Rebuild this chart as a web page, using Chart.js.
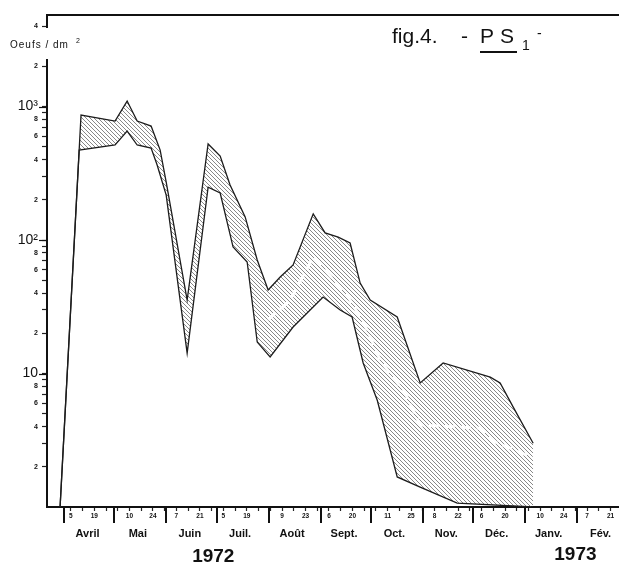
<!DOCTYPE html>
<html>
<head>
<meta charset="utf-8">
<script src="https://cdn.jsdelivr.net/npm/chart.js@4.4.1/dist/chart.umd.min.js"></script>
<style>
  html, body { margin: 0; padding: 0; background: #fff; }
  canvas { display: block; }
</style>
</head>
<body>
<canvas id="fig4" width="619" height="565"></canvas>
<script>
// jours comptés depuis le 1er avril 1972
const upperDays = [-2.4, 10.1, 30.4, 37.6, 43.6, 51.9, 57.3, 60.9, 73.4, 85.9, 93.1, 99.0, 108.0, 115.2, 121.7, 128.9, 136.6, 148.6, 155.7, 163.5, 170.6, 176.6, 182.6, 198.7, 212.4, 226.1, 254.2, 260.1, 267.9, 279.8];
const upperValues = [1, 864, 779, 1099, 779, 714, 472, 272, 35.5, 524, 426, 258, 149, 70.8, 42.2, 52.8, 65, 157, 113, 105, 95, 47.6, 35.5, 26.5, 8.5, 12, 9.4, 8.5, 5.6, 3.0];

const lowerDays = [-2.4, 9.0, 30.4, 37.6, 43.6, 51.9, 55.5, 60.9, 73.4, 85.9, 93.1, 100.8, 109.2, 115.2, 122.9, 136.6, 154.5, 164.7, 171.8, 178.4, 186.8, 198.7, 212.4, 234.5, 279.8];
const lowerValues = [1, 472, 515, 655, 515, 489, 365, 217, 14.2, 249, 225, 88.6, 68.4, 17.2, 13.3, 22.3, 37.4, 29.9, 26.5, 12, 6.3, 1.68, 1.41, 1.07, 1];

// trait blanc au milieu de la bande
const meanDays = [121.7, 134.8, 148.6, 168.9, 180.8, 188.5, 203.5, 212.4, 248.2, 257.2, 279.8];
const meanValues = [25.2, 35.5, 74.6, 38.7, 21.2, 12.6, 7.1, 4.1, 3.9, 3.07, 2.33];

const yTickValues = [2, 3, 4, 5, 6, 7, 8, 9, 10, 20, 30, 40, 50, 60, 70, 80, 90, 100, 200, 300, 400, 500, 600, 700, 800, 900, 1000, 2000, 4000];
const yTickLabels = ['2', '', '4', '', '6', '', '8', '', '10', '2', '', '4', '', '6', '', '8', '', '10²', '2', '', '4', '', '6', '', '8', '', '10³', '2', '4'];
const yDecades = [10, 100, 1000];

const labeledDays = [4, 18, 39, 53, 67, 81, 95, 109, 130, 144, 158, 172, 193, 207, 221, 235, 249, 263, 284, 298, 312, 326];
const labeledDayText = ['5', '19', '10', '24', '7', '21', '5', '19', '9', '23', '6', '20', '11', '25', '8', '22', '6', '20', '10', '24', '7', '21'];

const monthStarts = [0, 30, 61, 91, 122, 153, 183, 214, 244, 275, 306];
const monthNames = ['Avril', 'Mai', 'Juin', 'Juil.', 'Août', 'Sept.', 'Oct.', 'Nov.', 'Déc.', 'Janv.', 'Fév.'];

const yearDays = [89, 305];
const yearNames = ['1972', '1973'];

const FONT = '"Liberation Sans", Arial, sans-serif';

const canvas = document.getElementById('fig4');
const ctx = canvas.getContext('2d');

// hachures
function hatch() {
  const s = 4;
  const c = document.createElement('canvas');
  c.width = s; c.height = s;
  const g = c.getContext('2d');
  g.strokeStyle = '#7a7a7a';
  g.lineWidth = 0.9;
  g.beginPath();
  g.moveTo(0, 0); g.lineTo(s, s);
  g.moveTo(-1, s - 1); g.lineTo(1, s + 1);
  g.moveTo(s - 1, -1); g.lineTo(s + 1, 1);
  g.stroke();
  return ctx.createPattern(c, 'repeat');
}

const decor = {
  id: 'decor',
  afterDraw(chart) {
    const c = chart.ctx;
    const x = chart.scales.x;
    const y = chart.scales.y;
    const a = chart.chartArea;
    c.save();
    c.strokeStyle = '#111';
    c.fillStyle = '#111';

    // cadre du haut
    c.lineWidth = 2;
    c.beginPath();
    c.moveTo(a.left - 1, a.top);
    c.lineTo(a.right, a.top);
    c.stroke();

    // traits plus longs des décades
    c.lineWidth = 1.2;
    yDecades.forEach(v => {
      const py = Math.round(y.getPixelForValue(v)) + 0.5;
      c.beginPath();
      c.moveTo(a.left - 8, py);
      c.lineTo(a.left, py);
      c.stroke();
    });

    // traits des mois
    c.lineWidth = 2;
    monthStarts.forEach(d => {
      const px = Math.round(x.getPixelForValue(d));
      c.beginPath();
      c.moveTo(px, a.bottom);
      c.lineTo(px, a.bottom + 16);
      c.stroke();
    });

    c.textAlign = 'center';
    c.textBaseline = 'alphabetic';
    c.font = 'bold 11px ' + FONT;
    monthNames.forEach((m, i) => {
      c.fillText(m, x.getPixelForValue(monthStarts[i] + 14), a.bottom + 30);
    });

    c.font = 'bold 19px ' + FONT;
    yearNames.forEach((yr, i) => {
      c.fillText(yr, x.getPixelForValue(yearDays[i]), i === 0 ? 562 : 560);
    });

    // coupure de l'axe + titre de l'axe
    c.fillStyle = '#fff';
    c.fillRect(a.left - 3, 28, 6, 31);
    c.fillStyle = '#111';
    c.textAlign = 'left';
    c.font = '10px ' + FONT;
    c.letterSpacing = '1px';
    c.fillText('Oeufs / dm', 10, 48);
    c.font = '7px ' + FONT;
    c.fillText('2', 76, 43);
    c.letterSpacing = '0px';

    // titre
    c.font = '21px ' + FONT;
    c.fillText('fig.4.', 392, 43);
    c.fillText('-', 461, 43);
    c.fillText('P', 480, 43);
    c.fillText('S', 500, 43);
    c.lineWidth = 2;
    c.beginPath();
    c.moveTo(480, 52);
    c.lineTo(517, 52);
    c.stroke();
    c.font = '14px ' + FONT;
    c.fillText('1', 522, 50);
    c.fillText('-', 537, 38);
    c.restore();
  }
};

new Chart(ctx, {
  type: 'line',
  data: {
    datasets: [{
      label: 'moyenne',
      data: meanDays.map((d, i) => ({ x: d, y: meanValues[i] })),
      borderColor: '#fff',
      borderWidth: 3,
      borderDash: [10, 6],
      pointRadius: 0,
      fill: false,
      order: 0
    }, {
      label: 'max',
      data: upperDays.map((d, i) => ({ x: d, y: upperValues[i] })),
      borderColor: '#1c1c1c',
      borderWidth: 1.3,
      pointRadius: 0,
      fill: '+1',
      backgroundColor: hatch(),
      order: 1
    }, {
      label: 'min',
      data: lowerDays.map((d, i) => ({ x: d, y: lowerValues[i] })),
      borderColor: '#1c1c1c',
      borderWidth: 1.3,
      pointRadius: 0,
      fill: false,
      order: 2
    }]
  },
  options: {
    responsive: false,
    animation: false,
    devicePixelRatio: 1,
    layout: { padding: { top: 15, right: 0, bottom: 0, left: 0 } },
    plugins: {
      legend: { display: false },
      tooltip: { enabled: false },
      filler: { drawTime: 'beforeDatasetsDraw' }
    },
    scales: {
      x: {
        type: 'linear',
        min: -10.2,
        max: 331,
        afterFit(scale) { scale.height = 58; },
        afterBuildTicks(scale) {
          const t = [];
          for (let d = 4; d <= 326; d += 7) t.push({ value: d });
          scale.ticks = t;
        },
        border: { display: true, color: '#111', width: 2 },
        grid: { drawOnChartArea: false, drawTicks: true, tickLength: 4, tickColor: '#222', tickWidth: 1.2 },
        ticks: {
          autoSkip: false,
          maxRotation: 0,
          padding: 1,
          color: '#111',
          font: { family: FONT, size: 6.5, weight: 'bold' },
          callback(value) {
            const i = labeledDays.indexOf(value);
            return i >= 0 ? labeledDayText[i] : '';
          }
        }
      },
      y: {
        type: 'logarithmic',
        min: 1,
        max: 4850,
        afterFit(scale) { scale.width = 47; },
        afterBuildTicks(scale) {
          scale.ticks = yTickValues.map(v => ({ value: v }));
        },
        border: { display: true, color: '#111', width: 2 },
        grid: { drawOnChartArea: false, drawTicks: true, tickLength: 5, tickColor: '#222', tickWidth: 1.2 },
        ticks: {
          autoSkip: false,
          padding: 4,
          color: '#111',
          font(c) {
            const v = c.tick ? c.tick.value : 0;
            if (yDecades.includes(v)) return { family: FONT, size: 14 };
            return { family: FONT, size: 7, weight: 'bold' };
          },
          callback(value) {
            const i = yTickValues.indexOf(value);
            return i >= 0 ? yTickLabels[i] : '';
          }
        }
      }
    }
  },
  plugins: [decor]
});
</script>
</body>
</html>
